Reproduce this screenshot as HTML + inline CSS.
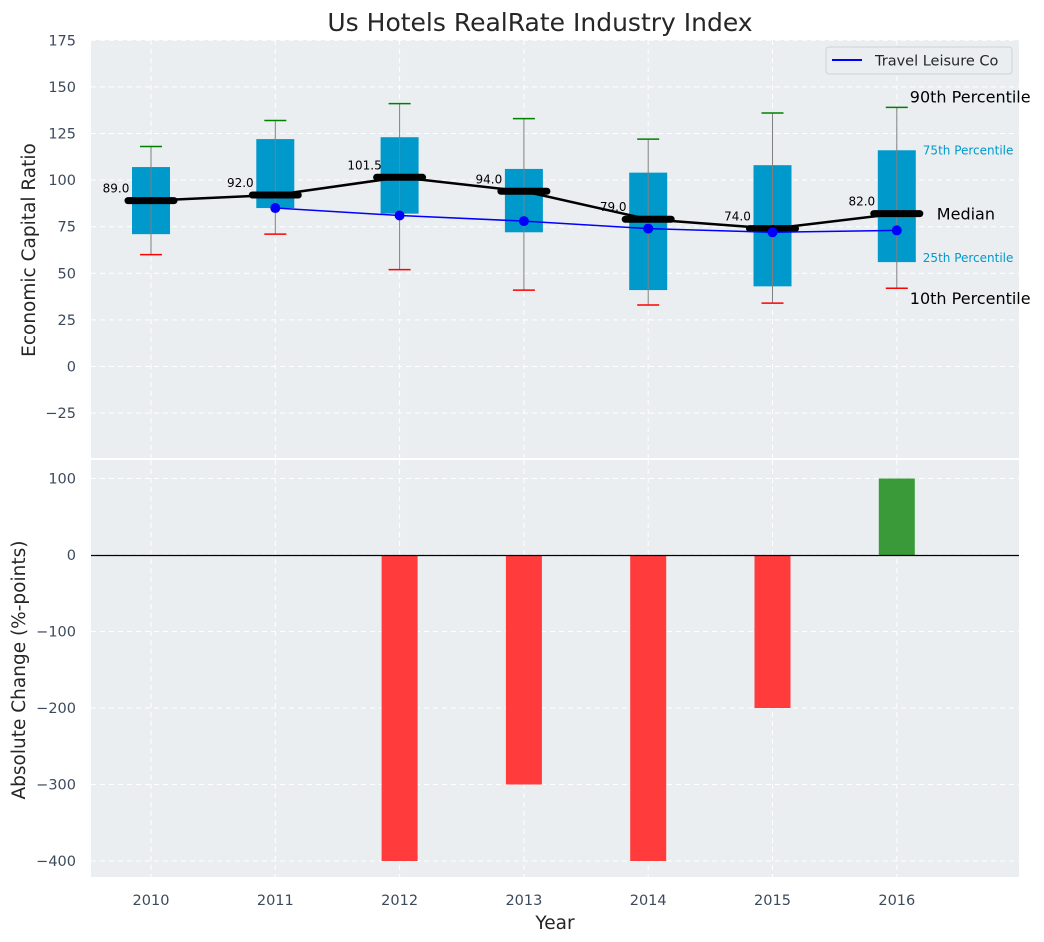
<!DOCTYPE html>
<html><head><meta charset="utf-8"><style>
body{margin:0;background:#fff;}
svg{display:block;font-family:"DejaVu Sans","Liberation Sans",sans-serif;}
</style></head><body>
<svg id="chart" width="1044" height="942" viewBox="0 0 1044 942" xmlns="http://www.w3.org/2000/svg">
<text x="540" y="31" font-size="25" text-anchor="middle" fill="#262626">Us Hotels RealRate Industry Index</text>
<rect x="91" y="40" width="928" height="418" fill="#eaeef0"/>
<rect x="91" y="460" width="928" height="417" fill="#eaeef0"/>
<g id="gtop"></g><g id="gbot"></g>
<text x="35" y="250" font-size="18.5" text-anchor="middle" fill="#262626" transform="rotate(-90 35 250)">Economic Capital Ratio</text>
<text x="25" y="670" font-size="18.5" text-anchor="middle" fill="#262626" transform="rotate(-90 25 670)">Absolute Change (%-points)</text>
<text x="555" y="929" font-size="18.5" text-anchor="middle" fill="#262626">Year</text>
<g>
<rect x="826" y="47" width="186" height="27" rx="3" fill="#eaeef0" stroke="#cfd3d6"/>
<line x1="832" y1="60" x2="862" y2="60" stroke="#0000ff" stroke-width="2"/>
<text x="875" y="65.5" font-size="14.5" fill="#262626">Travel Leisure Co</text>
</g>
</svg>
<script>
const years=["2010","2011","2012","2013","2014","2015","2016"];
const p10=[60,71,52,41,33,34,42];
const p25=[71,85,82,72,41,43,56];
const p50=[89,92,101.5,94,79,74,82];
const p75=[107,122,123,106,104,108,116];
const p90=[118,132,141,133,122,136,139];
const company=[null,85,81,78,74,72,73];
const change=[0,0,-400,-300,-400,-200,100];
const topTicks=[175,150,125,100,75,50,25,0,-25];
const botTicks=[100,0,-100,-200,-300,-400];
const NS="http://www.w3.org/2000/svg";
const xs=i=>151+i*124.3;
const yT=v=>366.5-v*(46.6/25);
const yB=v=>555-v*0.765;
const gTop=document.getElementById('gtop'),gBot=document.getElementById('gbot');
function mk(p,t,a){const e=document.createElementNS(NS,t);for(const k in a)e.setAttribute(k,a[k]);p.appendChild(e);return e;}
topTicks.forEach(v=>{
 const g=mk(gTop,'line',{x1:91,x2:1019,y1:yT(v),y2:yT(v),stroke:'#fff','stroke-dasharray':'5 4','stroke-width':1});
 
 
 const t=mk(gTop,'text',{x:76,y:yT(v)+5,'font-size':14.5,'text-anchor':'end',fill:'#3d4a5c'});
 t.textContent=v<0?'\u2212'+(-v):v;
 
 
});
botTicks.forEach(v=>{
 const g=mk(gBot,'line',{x1:91,x2:1019,y1:yB(v),y2:yB(v),stroke:'#fff','stroke-dasharray':'5 4','stroke-width':1});
 
 
 const t=mk(gBot,'text',{x:76,y:yB(v)+5,'font-size':14.5,'text-anchor':'end',fill:'#3d4a5c'});
 t.textContent=v<0?'\u2212'+(-v):v;
 
 
});
years.forEach((y,i)=>{
 [gTop,gBot].forEach((p,j)=>{const g=mk(p,'line',{x1:xs(i),x2:xs(i),y1:j?460:40,y2:j?877:458,stroke:'#fff','stroke-dasharray':'5 4'});
 
 });
 const t=mk(gBot,'text',{x:xs(i),y:905,'font-size':14.5,'text-anchor':'middle',fill:'#3d4a5c'});
 t.textContent=y;
 
 
});
change.forEach((v,i)=>{
 if(v===0)return;
 const y0=Math.min(yB(0),yB(v)),h=Math.abs(yB(v)-yB(0));
 const r=mk(gBot,'rect',{x:xs(i)-18,y:y0,width:36,height:h,fill:v<0?'#ff3b3b':'#3a9a3a'});
 
 
});
const z=mk(gBot,'line',{x1:91,x2:1019,y1:Math.round(yB(0))+0.5,y2:Math.round(yB(0))+0.5,stroke:'#000','stroke-width':1.2});


years.forEach((y,i)=>{
 const x=xs(i);
 const b=mk(gTop,'rect',{x:x-19,y:yT(p75[i]),width:38,height:yT(p25[i])-yT(p75[i]),fill:'#0099cc'});
 
 
 const w=mk(gTop,'line',{x1:x,x2:x,y1:yT(p10[i]),y2:yT(p90[i]),stroke:'#808080','stroke-width':1});
 
 
 const c1=mk(gTop,'line',{x1:x-11,x2:x+11,y1:yT(p10[i]),y2:yT(p10[i]),stroke:'#ff0000','stroke-width':1.5});
 
 
 const c2=mk(gTop,'line',{x1:x-11,x2:x+11,y1:yT(p90[i]),y2:yT(p90[i]),stroke:'#008000','stroke-width':1.5});
 
 
});
let d=p50.map((v,i)=>(i?'L':'M')+xs(i)+' '+yT(v)).join(' ');
const ml=mk(gTop,'path',{d:d,stroke:'#000','stroke-width':2.5,fill:'none'});


p50.forEach((v,i)=>{
 const m=mk(gTop,'line',{x1:xs(i)-23,x2:xs(i)+23,y1:yT(v),y2:yT(v),stroke:'#000','stroke-width':7,'stroke-linecap':'round'});
 
 
 const t=mk(gTop,'text',{x:xs(i)-35,y:yT(v)-8,'font-size':12,'text-anchor':'middle',fill:'#000'});
 t.textContent=v.toFixed(1);
 
 
});
const pts=company.map((v,i)=>v===null?null:[xs(i),yT(v)]).filter(p=>p);
const cl=mk(gTop,'path',{d:pts.map((p,i)=>(i?'L':'M')+p[0]+' '+p[1]).join(' '),stroke:'#0000ff','stroke-width':1.5,fill:'none'});


pts.forEach(p=>{const c=mk(gTop,'circle',{cx:p[0],cy:p[1],r:5,fill:'#0000ff'});
 
 });
const L=6,lx=xs(L);
[[p90[L],'90th Percentile',16,'#000',lx+13,-5],[p10[L],'10th Percentile',16,'#000',lx+13,16],
 [p75[L],'75th Percentile',12,'#0099cc',lx+26,4],[p25[L],'25th Percentile',12,'#0099cc',lx+26,0],
 [p50[L],'Median',16,'#000',lx+40,6]].forEach(a=>{
 const t=mk(gTop,'text',{x:a[4],y:yT(a[0])+a[5],'font-size':a[2],fill:a[3]});
 t.textContent=a[1];
 
 
});
</script>
</body></html>
